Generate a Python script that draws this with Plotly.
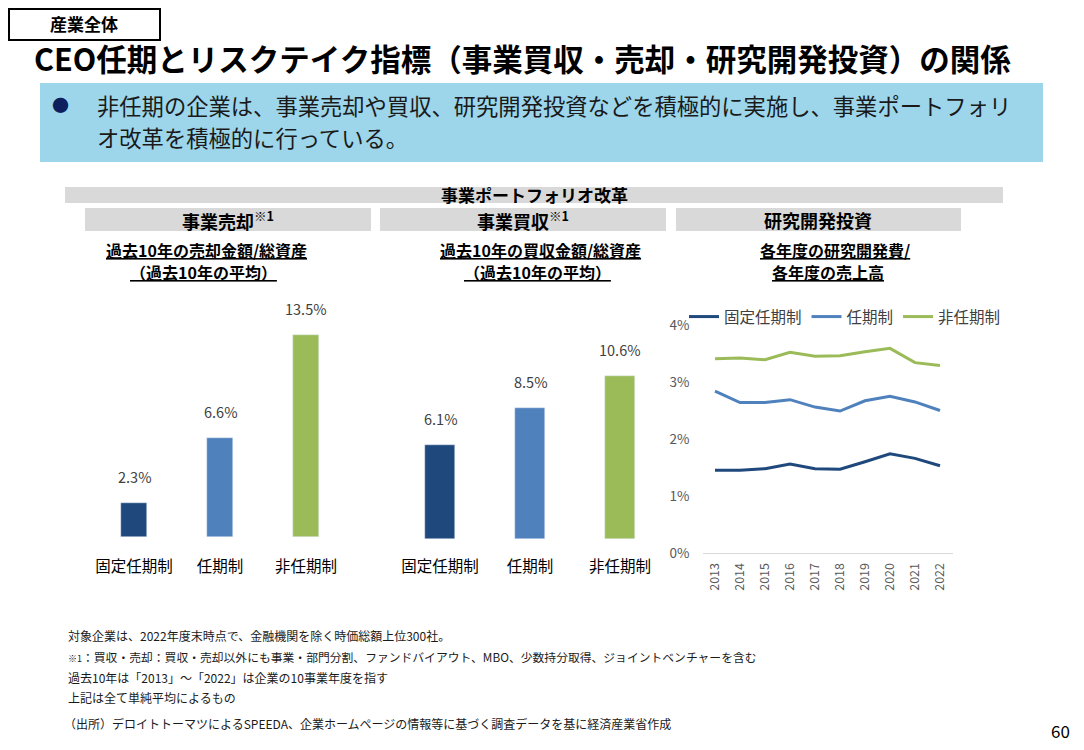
import plotly.graph_objects as go

W, H = 1084, 750
OX, OY = 8, 8          # page body margin offset compensation
FONT = "Noto Sans CJK JP"

# ---------------- data ----------------
categories = ["固定任期制", "任期制", "非任期制"]
divest_values = [0.023, 0.066, 0.135]      # 事業売却 (過去10年の売却金額/総資産)
acquire_values = [0.061, 0.085, 0.106]     # 事業買収 (過去10年の買収金額/総資産)

years = ["2013", "2014", "2015", "2016", "2017", "2018", "2019", "2020", "2021", "2022"]
rd_fixed = [0.0145, 0.0145, 0.0148, 0.0156, 0.0148, 0.0147, 0.0160, 0.0174, 0.0166, 0.0153]
rd_term = [0.0284, 0.0264, 0.0264, 0.0269, 0.0256, 0.0249, 0.0267, 0.0275, 0.0265, 0.0250]
rd_nonterm = [0.0341, 0.0342, 0.0339, 0.0352, 0.0345, 0.0346, 0.0353, 0.0359, 0.0334, 0.0329]

bar_colors = ["#1F497D", "#4F81BD", "#9BBB59"]


def px(x):
    return (x - OX) / W


def py(y):
    return 1 - (y - OY) / H


fig = go.Figure()

# ---------------- bar charts ----------------
fig.add_trace(go.Bar(x=categories, y=divest_values, marker_color=bar_colors,
                     width=0.31, xaxis="x", yaxis="y", showlegend=False,
                     hoverinfo="skip"))
fig.add_trace(go.Bar(x=categories, y=acquire_values, marker_color=bar_colors,
                     width=0.33, xaxis="x2", yaxis="y2", showlegend=False,
                     hoverinfo="skip"))

annotations = []
for xa, ya, vals in (("x", "y", divest_values), ("x2", "y2", acquire_values)):
    for c, v in zip(categories, vals):
        annotations.append(dict(x=c, y=v, xref=xa, yref=ya, text=f"{v*100:.1f}%",
                                showarrow=False, yanchor="bottom", yshift=14,
                                font=dict(family=FONT, size=14.5, color="#404040")))

# ---------------- line chart ----------------
for name, vals, col in (("固定任期制", rd_fixed, "#1F497D"),
                        ("任期制", rd_term, "#4F81BD"),
                        ("非任期制", rd_nonterm, "#9BBB59")):
    fig.add_trace(go.Scatter(x=years, y=vals, mode="lines", name=name,
                             line=dict(color=col, width=3),
                             xaxis="x3", yaxis="y3", hoverinfo="skip"))

cat_font = dict(family=FONT, size=15.5, color="#000000")

fig.update_layout(
    width=W, height=H,
    margin=dict(l=0, r=0, t=0, b=0, autoexpand=False),
    paper_bgcolor="white", plot_bgcolor="rgba(0,0,0,0)",
    font=dict(family=FONT),
    bargap=0,
    xaxis=dict(domain=[px(91), px(349)], anchor="y", type="category",
               range=[-0.5, 2.5], showline=False, showgrid=False, zeroline=False,
               ticks="", tickfont=cat_font, ticklabelstandoff=18, automargin=False),
    yaxis=dict(domain=[py(537), py(290)], anchor="x", range=[0, 0.1647],
               visible=False, automargin=False),
    xaxis2=dict(domain=[px(395), px(665)], anchor="y2", type="category",
                range=[-0.5, 2.5], showline=False, showgrid=False, zeroline=False,
                ticks="", tickfont=cat_font, ticklabelstandoff=16, automargin=False),
    yaxis2=dict(domain=[py(539), py(290)], anchor="x2", range=[0, 0.1617],
                visible=False, automargin=False),
    xaxis3=dict(domain=[px(702.5), px(952.5)], anchor="y3", type="category",
                range=[-0.5, 9.5], showline=True, linecolor="#D9D9D9", linewidth=1,
                showgrid=False, zeroline=False, ticks="", tickangle=-90,
                tickfont=dict(family=FONT, size=12.5, color="#595959"),
                ticklabelstandoff=4, automargin=False),
    yaxis3=dict(domain=[py(553), py(325)], anchor="x3", range=[0, 0.04],
                dtick=0.01, tickformat=".0%", showgrid=False, zeroline=False,
                showline=False, ticks="",
                tickfont=dict(family=FONT, size=13.5, color="#595959"),
                ticklabelstandoff=12, automargin=False),
    legend=dict(orientation="h", x=px(684), y=py(317), xanchor="left",
                yanchor="middle", font=dict(family=FONT, size=15.5, color="#404040"),
                bgcolor="rgba(0,0,0,0)", itemwidth=30, tracegroupgap=0),
)

# ---------------- decorations ----------------
shapes = [
    dict(type="rect", xref="paper", yref="paper", x0=px(9), x1=px(160), y0=py(40), y1=py(9),
         line=dict(color="#000000", width=2), fillcolor="white"),
    dict(type="rect", xref="paper", yref="paper", x0=px(40), x1=px(1043), y0=py(162), y1=py(83),
         line=dict(width=0), fillcolor="#9DD6EB", layer="below"),
    dict(type="rect", xref="paper", yref="paper", x0=px(65), x1=px(1003), y0=py(203), y1=py(187),
         line=dict(width=0), fillcolor="#D9D9D9", layer="below"),
    dict(type="rect", xref="paper", yref="paper", x0=px(85), x1=px(371), y0=py(231), y1=py(208),
         line=dict(width=0), fillcolor="#D9D9D9", layer="below"),
    dict(type="rect", xref="paper", yref="paper", x0=px(380), x1=px(666), y0=py(231), y1=py(208),
         line=dict(width=0), fillcolor="#D9D9D9", layer="below"),
    dict(type="rect", xref="paper", yref="paper", x0=px(676), x1=px(961), y0=py(231), y1=py(208),
         line=dict(width=0), fillcolor="#D9D9D9", layer="below"),
]


def txt(x, y, text, size, color="#000000", bold=False, xanchor="left", yanchor="middle"):
    annotations.append(dict(xref="paper", yref="paper", x=px(x), y=py(y), text=text,
                            showarrow=False, xanchor=xanchor, yanchor=yanchor,
                            font=dict(family=FONT, size=size, color=color,
                                      weight="bold" if bold else "normal")))


txt(84, 23, "産業全体", 17, bold=True, xanchor="center")
txt(32, 58, "CEO任期とリスクテイク指標（事業買収・売却・研究開発投資）の関係", 30.5, bold=True)
txt(50, 104, "●", 17, color="#0D1F5C")
txt(95, 105, "非任期の企業は、事業売却や買収、研究開発投資などを積極的に実施し、事業ポートフォリ", 22.3, color="#1A1A1A")
txt(95, 137, "オ改革を積極的に行っている。", 22.3, color="#1A1A1A")

txt(534, 195, "事業ポートフォリオ改革", 17, bold=True, xanchor="center")
txt(228, 220, "事業売却<sup>※1</sup>", 18, bold=True, xanchor="center")
txt(523, 220, "事業買収<sup>※1</sup>", 18, bold=True, xanchor="center")
txt(818, 220, "研究開発投資", 18, bold=True, xanchor="center")

txt(206, 250, "<u>過去10年の売却金額/総資産</u>", 16, bold=True, xanchor="center")
txt(203, 272, "<u>（過去10年の平均）</u>", 16, bold=True, xanchor="center")
txt(540, 250, "<u>過去10年の買収金額/総資産</u>", 16, bold=True, xanchor="center")
txt(537, 272, "<u>（過去10年の平均）</u>", 16, bold=True, xanchor="center")
txt(835, 250, "<u>各年度の研究開発費/</u>", 16, bold=True, xanchor="center")
txt(828, 272, "<u>各年度の売上高</u>", 16, bold=True, xanchor="center")

foot = "#1A1A1A"
txt(66, 635, "対象企業は、2022年度末時点で、金融機関を除く時価総額上位300社。", 12, color=foot)
txt(66, 656, "<span style='font-size:9px'>※1</span>：買収・売却：買収・売却以外にも事業・部門分割、ファンドバイアウト、MBO、少数持分取得、ジョイントベンチャーを含む", 11.8, color=foot)
txt(66, 677, "過去10年は「2013」～「2022」は企業の10事業年度を指す", 12, color=foot)
txt(66, 697, "上記は全て単純平均によるもの", 12, color=foot)
txt(62, 723, "（出所）デロイトトーマツによるSPEEDA、企業ホームページの情報等に基づく調査データを基に経済産業省作成", 12, color=foot)
txt(1072, 730, "60", 17, color="#000000", xanchor="right")

fig.update_layout(shapes=shapes, annotations=annotations)

fig.write_html("out.html")
